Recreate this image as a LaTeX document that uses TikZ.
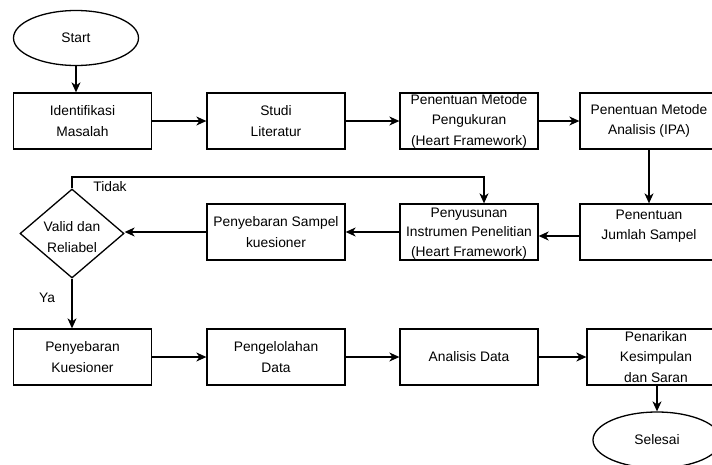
\documentclass[tikz,border=0pt]{standalone}
\usepackage{fontspec}
\setmainfont{Liberation Sans}
\usetikzlibrary{shapes.geometric,arrows.meta}
\begin{document}
\begin{tikzpicture}[x=1pt,y=-1pt,
  font=\fontsize{13.8}{20.5}\selectfont,
  box/.style={draw, line width=1.3pt, minimum width=138pt, minimum height=56pt, align=center, inner sep=0pt},
  term/.style={draw, ellipse, line width=1.3pt, inner sep=0pt},
  decision/.style={draw, diamond, line width=1.3pt, minimum width=104pt, minimum height=89pt, inner sep=0pt},
  arr/.style={line width=1.2pt, -{Stealth[length=10pt,width=9pt,inset=3pt]}},
  lbl/.style={inner sep=0pt, align=center}]
\useasboundingbox (0,0) rectangle (712,464);
\clip (0,0) rectangle (712,464);
% row 0
\node[term, minimum width=125pt, minimum height=55pt] (start) at (76,38) {Start};
% row 1
\node[box] (b1) at (82.5,121) {Identifikasi\\Masalah};
\node[box] (b2) at (276,121) {Studi\\Literatur};
\node[box] (b3) at (469,121) {Penentuan Metode\\Pengukuran\\(Heart Framework)};
\node[box] (b4) at (649,121) {Penentuan Metode\\Analisis (IPA)};
% row 2
\node[box] (jml) at (649,232) {};
\node[lbl] (jmltext) at (649,226) {Penentuan\\Jumlah Sampel};
\node[box] (sus) at (469,232) {};
\node[lbl, font=\fontsize{13.8}{19.8}\selectfont] (sustext) at (469,233.5) {Penyusunan\\Instrumen Penelitian\\(Heart Framework)};
\node[box] (seb) at (276,232) {Penyebaran Sampel\\kuesioner};
\node[decision] (dec) at (72,233.5) {};
\node[lbl] (dectext) at (72,237) {Valid dan\\Reliabel};
% row 3
\node[box] (kue) at (82.5,357) {Penyebaran\\Kuesioner};
\node[box] (olah) at (276,357) {Pengelolahan\\Data};
\node[box] (ana) at (469,357) {Analisis Data};
\node[box] (tarik) at (656,357) {Penarikan\\Kesimpulan\\dan Saran};
\node[term, minimum width=128pt, minimum height=56pt] (end) at (657,440) {Selesai};
% labels
\node[lbl] (tidak) at (110,187) {Tidak};
\node[lbl] (ya) at (47,298) {Ya};
% connectors
\draw[arr] (start.south) -- (start.south |- b1.north);
\draw[arr] (b1) -- (b2);
\draw[arr] (b2) -- (b3);
\draw[arr] (b3) -- (b4);
\draw[arr] (b4) -- (jml);
\draw[arr] ([yshift=-4pt]jml.west) -- ([yshift=-4pt]sus.east);
\draw[arr] (sus) -- (seb);
\draw[arr] (seb.west) -- (seb.west -| dec.east);
\draw[arr] (dec.north) -- (dec.north |- 0,177) -| ([xshift=15pt]sus.north);
\draw[arr] (dec.south) -- (dec.south |- kue.north);
\draw[arr] (kue) -- (olah);
\draw[arr] (olah) -- (ana);
\draw[arr] (ana) -- (tarik);
\draw[arr] (tarik.south -| end.north) -- (end.north);
\end{tikzpicture}
\end{document}
